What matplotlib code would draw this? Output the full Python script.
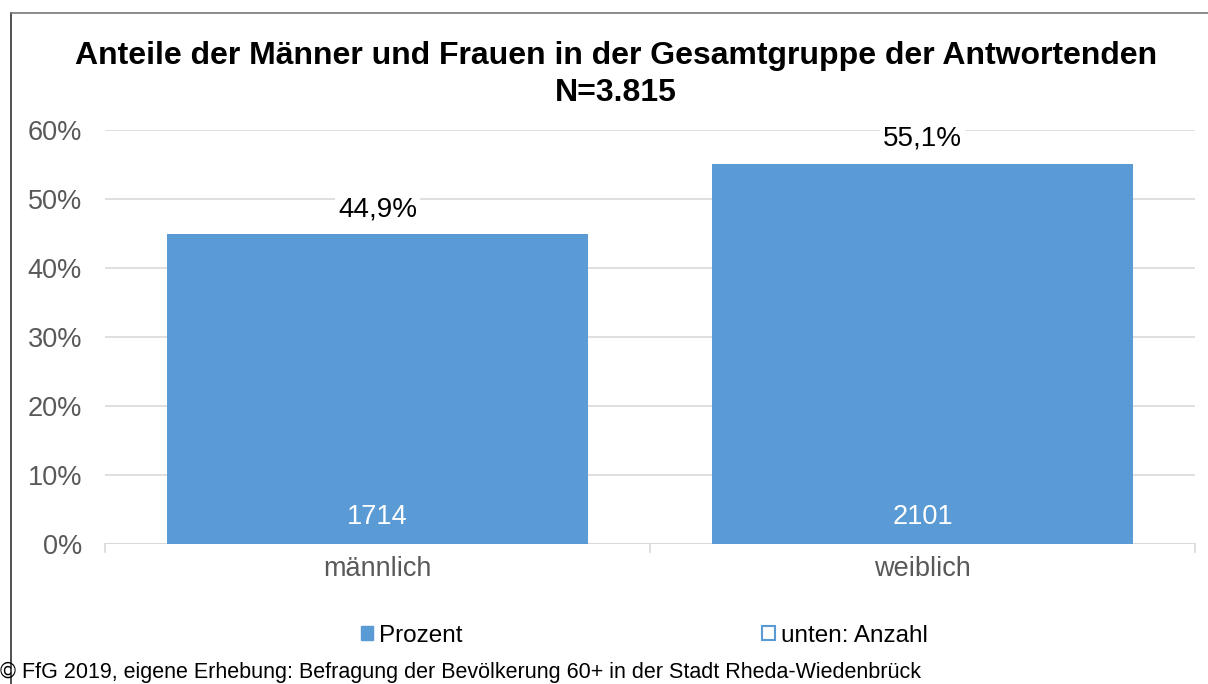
import matplotlib
matplotlib.use("Agg")
import matplotlib.pyplot as plt
from matplotlib.patches import Patch
from matplotlib.lines import Line2D

categories = ["männlich", "weiblich"]
percent = [44.9, 55.1]
counts = [1714, 2101]
yticks = [0, 10, 20, 30, 40, 50, 60]
title = "Anteile der Männer und Frauen in der Gesamtgruppe der Antwortenden\nN=3.815"
footer = "© FfG 2019, eigene Erhebung: Befragung der Bevölkerung 60+ in der Stadt Rheda-Wiedenbrück"

plt.rcParams['font.family'] = ['Liberation Sans', 'DejaVu Sans']
W, H = 1208, 684
fig = plt.figure(figsize=(W/100, H/100), dpi=100)
ax = fig.add_axes([105/W, 1-544/H, (1195-105)/W, (544-130)/H])

bar_color = "#5B9BD5"
x = list(range(len(categories)))
ax.bar(x, percent, width=0.772, color=bar_color, zorder=3)
ax.set_xlim(-0.5, 1.5)
ax.set_ylim(0, 60)
ax.set_yticks(yticks)
ax.set_yticklabels([f"{t}%" for t in yticks], fontsize=19.5, color="#595959")
ax.set_xticks(x)
ax.set_xticklabels(categories, fontsize=19.5, color="#595959")
ax.tick_params(axis='y', length=0, pad=16.5)
ax.tick_params(axis='x', length=0, pad=8.5)
for v in [-0.5, 0.5, 1.5]:
    ax.plot([v, v], [0, -1.1], color="#d9d9d9", lw=1.2, clip_on=False, zorder=2)
ax.grid(axis='y', color="#d9d9d9", lw=1.2, zorder=0)
for s in ax.spines.values():
    s.set_visible(False)
ax.axhline(0, color="#d9d9d9", lw=1.5, zorder=2)

for i, (p, c) in enumerate(zip(percent, counts)):
    ax.annotate(f"{p:.1f}%".replace('.', ','), (i, p), xytext=(0, 18), textcoords='offset points',
                ha='center', va='center', fontsize=20, color='black', zorder=5,
                bbox=dict(facecolor='white', edgecolor='none', pad=2))
    ax.annotate(f"{c}", (i, 0), xytext=(0, 19.5), textcoords='offset points',
                ha='center', va='center', fontsize=19.5, color='white', zorder=5)

fig.text(616/W, 1-74.5/H, title, ha='center', va='center', fontsize=23, fontweight='bold',
         linespacing=1.28)

# legend
h1 = Patch(facecolor=bar_color, edgecolor=bar_color)
h2 = Patch(facecolor='white', edgecolor=bar_color, lw=1.5)
fig.legend([h1], ["Prozent"], loc='center', bbox_to_anchor=(412/W, 1-636/H), frameon=False,
           fontsize=17.5, handlelength=0.5, handleheight=0.5, handletextpad=0.25)
fig.legend([h2], ["unten: Anzahl"], loc='center', bbox_to_anchor=(845/W, 1-636/H), frameon=False,
           fontsize=17.5, handlelength=0.5, handleheight=0.5, handletextpad=0.25)

fig.text(0/W, 1-672/H, footer, ha='left', va='center', fontsize=15.5, color='black')

# frame lines
fig.add_artist(Line2D([11/W, 11/W], [0, 1-13/H], color='#333333', lw=1.2))
fig.add_artist(Line2D([11/W, 1], [1-13/H, 1-13/H], color='#777777', lw=1.2))

fig.savefig("out.png", dpi=100)
